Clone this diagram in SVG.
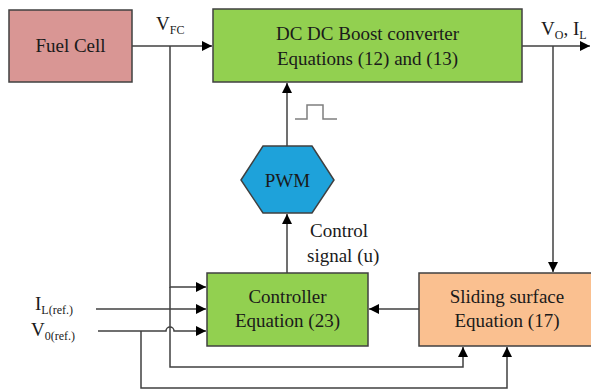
<svg xmlns="http://www.w3.org/2000/svg" width="591" height="392" viewBox="0 0 591 392">
<defs>
<marker id="ah" viewBox="0 0 10 10" refX="10" refY="5" markerWidth="10" markerHeight="10" markerUnits="userSpaceOnUse" orient="auto">
<path d="M0,0 L10,5 L0,10 z" fill="#000"/>
</marker>
<style>
.box{stroke:#404040;stroke-width:1.5}
text{font-family:'Liberation Serif','DejaVu Serif','Times New Roman',serif;font-size:19px;fill:#1a1a1a}
.t{text-anchor:middle}
.s{font-size:12px}
.c{fill:none;stroke:#404040;stroke-width:1.5}
</style>
</defs>
<rect width="591" height="392" fill="#fff"/>
<g id="fuel-cell"><rect class="box" x="9" y="10" width="123" height="72" fill="#d99694"/><text class="t" x="70.5" y="52">Fuel Cell</text></g>
<g id="boost"><rect class="box" x="213" y="9" width="309" height="73" fill="#92d050"/><text class="t" x="367.5" y="40">DC DC Boost converter</text><text class="t" x="367.5" y="65">Equations (12) and (13)</text></g>
<g id="pwm"><polygon class="box" points="241,180 263,146 312,146 334,180 312,213 263,213" fill="#1ea2da"/><text class="t" x="287.5" y="187">PWM</text></g>
<g id="controller"><rect class="box" x="207" y="273" width="161" height="73" fill="#92d050"/><text class="t" x="287.5" y="303">Controller</text><text class="t" x="287.5" y="327">Equation (23)</text></g>
<g id="sliding"><rect class="box" x="419" y="273" width="176" height="73" fill="#fac090"/><text class="t" x="507" y="303">Sliding surface</text><text class="t" x="507" y="327">Equation (17)</text></g>
<g id="connectors">
<path class="c" d="M132,46 H212" marker-end="url(#ah)"/>
<path class="c" d="M170,46 V287 H206" marker-end="url(#ah)"/>
<path class="c" d="M522,46 H590" marker-end="url(#ah)"/>
<path class="c" d="M553,46 V272" marker-end="url(#ah)"/>
<path class="c" d="M287,146 V83" marker-end="url(#ah)"/>
<path class="c" d="M287,273 V214" marker-end="url(#ah)"/>
<path class="c" d="M419,309 H369" marker-end="url(#ah)"/>
<path class="c" d="M96,309 H206" marker-end="url(#ah)"/>
<path class="c" d="M98,331 H166 A4,4 0 0 1 174,331 H206" marker-end="url(#ah)"/>
<path class="c" d="M170,287 V367 H463 V347" marker-end="url(#ah)"/>
<path class="c" d="M141,331 V388 H507 V347" marker-end="url(#ah)"/>
<path fill="none" stroke="#7f7f7f" stroke-width="1.5" d="M295,119 H307 V105 H323 V119 H337"/>
</g>
<g id="labels">
<text x="156" y="30">V<tspan class="s" dy="4">FC</tspan></text>
<text x="541" y="35">V<tspan class="s" dy="4">O</tspan><tspan dy="-4">, I</tspan><tspan class="s" dy="4">L</tspan></text>
<text x="35" y="310">I<tspan class="s" dy="4">L(ref.)</tspan></text>
<text x="31" y="336">V<tspan class="s" dy="4">0(ref.)</tspan></text>
<text x="310" y="237">Control</text>
<text x="307" y="262">signal (u)</text>
</g>
</svg>
